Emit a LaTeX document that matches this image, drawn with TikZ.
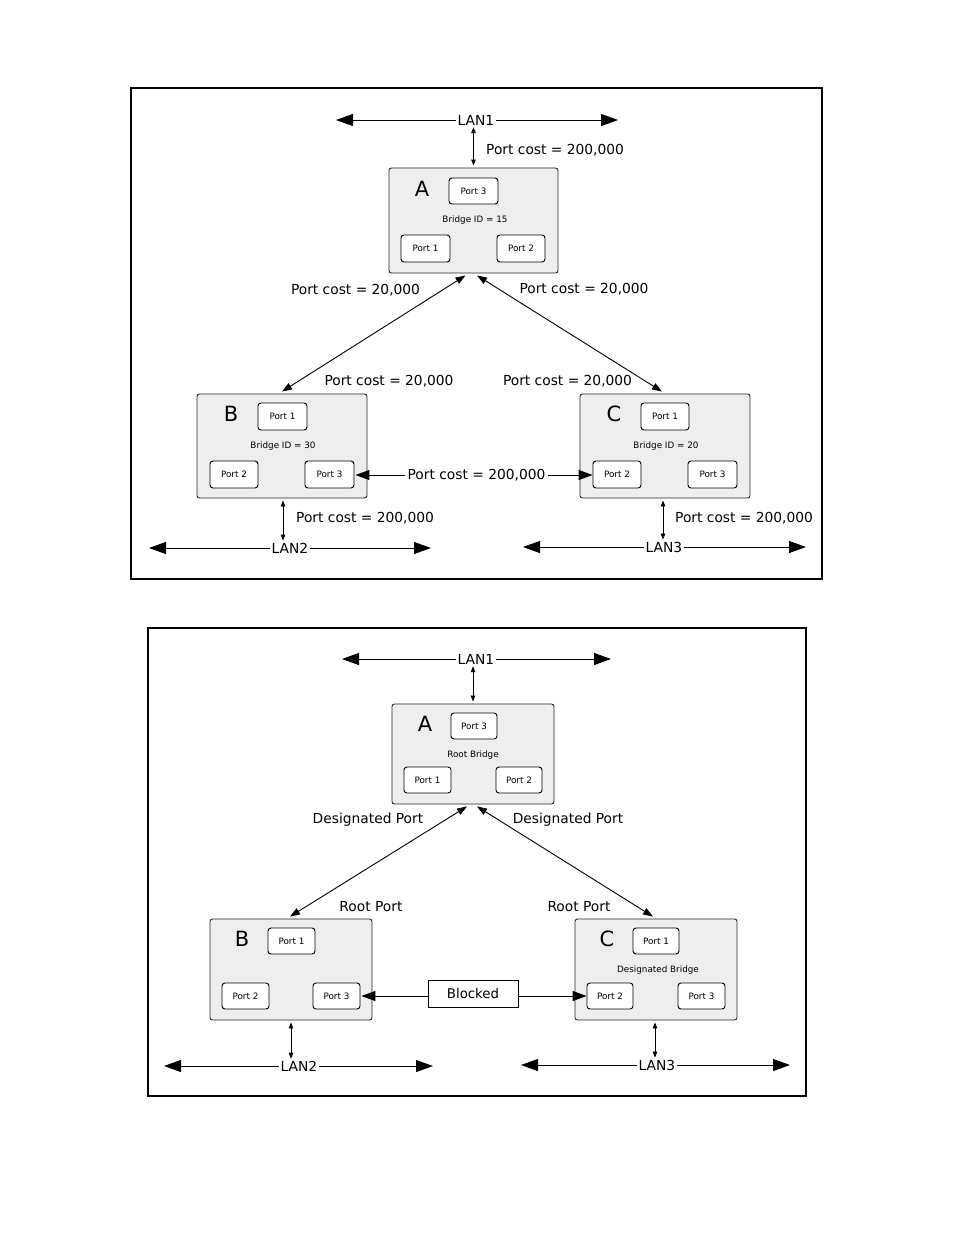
\documentclass[tikz,border=0pt]{standalone}
\usepackage{fontspec}
\setmainfont{DejaVu Sans}
\usetikzlibrary{arrows.meta}
\definecolor{boxgray}{RGB}{238,238,238}
\tikzset{
  frame/.style={draw=black, line width=1.2pt},
  bridge/.style={draw=black!85, line width=0.9pt, fill=boxgray, rounded corners=2.5pt, inner sep=0pt},
  port/.style={draw=black, line width=0.9pt, fill=white, rounded corners=3pt, inner sep=0pt, font=\fontsize{8.8}{10}\selectfont},
  small/.style={font=\fontsize{8.8}{10}\selectfont, inner sep=0pt, yshift=-1.5pt},
  lbl/.style={font=\fontsize{13.8}{16}\selectfont, inner sep=2pt, yshift=-1pt},
  letter/.style={font=\fontsize{21}{24}\selectfont, inner sep=0pt},
  lan/.style={line width=0.9pt, -{Triangle[length=17pt,width=12pt]}},
  hor/.style={line width=1pt, -{Triangle[length=14pt,width=10pt]}},
  diag/.style={line width=0.9pt, {Triangle[length=10pt,width=7pt]}-{Triangle[length=10pt,width=7pt]}},
  vert/.style={line width=0.8pt, {Triangle[length=6pt,width=4.5pt]}-{Triangle[length=6pt,width=4.5pt]}}
}
\begin{document}
\begin{tikzpicture}[x=1pt,y=-1pt]
\useasboundingbox (0,0) rectangle (954,1235);

% ================= TOP DIAGRAM =================
\draw[frame] (131,88) rectangle (822,579);

% LAN1
\node[lbl] (lan1) at (476,119) {LAN1};
\coordinate (lan1l) at (336,119);
\coordinate (lan1r) at (618,119);
\draw[lan] (lan1) -- (lan1 -| lan1l);
\draw[lan] (lan1) -- (lan1 -| lan1r);

% Bridge A
\node[bridge, minimum width=169pt, minimum height=105pt] (A) at (473.5,220.5) {};
\node[letter] (Al) at (422,189) {A};
\node[port, minimum width=49pt, minimum height=26pt] (a3) at (473.5,191) {Port 3};
\node[small] (aid) at (475,219) {Bridge ID = 15};
\node[port, minimum width=49pt, minimum height=27pt] (a1) at (425.5,248.5) {Port 1};
\node[port, minimum width=48pt, minimum height=27pt] (a2) at (521,248.5) {Port 2};

\draw[vert] ([yshift=2pt]A.north) -- (A.north |- lan1.south);
\node[lbl, anchor=west] (pcA) at (484,149) {Port cost = 200,000};

% Bridge B
\node[bridge, minimum width=170pt, minimum height=104pt] (B) at (282,446) {};
\node[letter] (Bl) at (231,414) {B};
\node[port, minimum width=49pt, minimum height=27pt] (b1) at (282.5,416.5) {Port 1};
\node[small] (bid) at (283,445) {Bridge ID = 30};
\node[port, minimum width=48pt, minimum height=27pt] (b2) at (234,474.5) {Port 2};
\node[port, minimum width=49pt, minimum height=27pt] (b3) at (329.5,474.5) {Port 3};

% Bridge C
\node[bridge, minimum width=170pt, minimum height=104pt] (C) at (665,446) {};
\node[letter] (Cl) at (614,414) {C};
\node[port, minimum width=48pt, minimum height=27pt] (c1) at (665,416.5) {Port 1};
\node[small] (cid) at (666,445) {Bridge ID = 20};
\node[port, minimum width=48pt, minimum height=27pt] (c2) at (617,474.5) {Port 2};
\node[port, minimum width=49pt, minimum height=27pt] (c3) at (712.5,474.5) {Port 3};

% diagonal links
\draw[diag] ([xshift=-8pt,yshift=-2pt]A.south) -- ([yshift=2pt]B.north);
\draw[diag] ([xshift=3.5pt,yshift=-2pt]A.south) -- ([xshift=-3pt,yshift=2pt]C.north);
\node[lbl] (pcAB) at (355.5,289) {Port cost = 20,000};
\node[lbl] (pcAC) at (584,288) {Port cost = 20,000};
\node[lbl] (pcBA) at (389,380) {Port cost = 20,000};
\node[lbl] (pcCA) at (567.5,380) {Port cost = 20,000};

% B-C link
\node[lbl] (pcBC) at (476.5,474) {Port cost = 200,000};
\draw[hor] (pcBC) -- ([xshift=1pt]pcBC -| b3.east);
\draw[hor] (pcBC) -- (pcBC -| c2.west);

% LAN2
\node[lbl] (lan2) at (290,547) {LAN2};
\coordinate (lan2l) at (149,547);
\coordinate (lan2r) at (431,547);
\draw[lan] (lan2) -- (lan2 -| lan2l);
\draw[lan] (lan2) -- (lan2 -| lan2r);
\draw[vert] ([xshift=1pt,yshift=-2pt]B.south) -- ([xshift=1pt]B.south |- lan2.north);
\node[lbl, anchor=west] (pcB) at (294,517) {Port cost = 200,000};

% LAN3
\node[lbl] (lan3) at (664,546) {LAN3};
\coordinate (lan3l) at (523,546);
\coordinate (lan3r) at (806,546);
\draw[lan] (lan3) -- (lan3 -| lan3l);
\draw[lan] (lan3) -- (lan3 -| lan3r);
\draw[vert] ([xshift=-2pt,yshift=-2pt]C.south) -- ([xshift=-2pt]C.south |- lan3.north);
\node[lbl, anchor=west] (pcC) at (673,517) {Port cost = 200,000};

% ================= BOTTOM DIAGRAM =================
\draw[frame] (148,628) rectangle (806,1096);

\node[lbl] (blan1) at (476,658) {LAN1};
\coordinate (blan1l) at (342,658);
\coordinate (blan1r) at (611,658);
\draw[lan] (blan1) -- (blan1 -| blan1l);
\draw[lan] (blan1) -- (blan1 -| blan1r);

% Bridge A
\node[bridge, minimum width=162pt, minimum height=100pt] (bA) at (473,754) {};
\node[letter] (bAl) at (425,724) {A};
\node[port, minimum width=46pt, minimum height=26pt] (ba3) at (474,726) {Port 3};
\node[small] (bAr) at (473,754) {Root Bridge};
\node[port, minimum width=47pt, minimum height=26pt] (ba1) at (427.5,780) {Port 1};
\node[port, minimum width=46pt, minimum height=26pt] (ba2) at (519,780) {Port 2};
\draw[vert] ([yshift=2pt]bA.north) -- (bA.north |- blan1.south);

% Bridge B
\node[bridge, minimum width=162pt, minimum height=101pt] (bB) at (291,969.5) {};
\node[letter] (bBl) at (242,939) {B};
\node[port, minimum width=47pt, minimum height=26pt] (bb1) at (291.5,941) {Port 1};
\node[port, minimum width=47pt, minimum height=26pt] (bb2) at (245.5,996) {Port 2};
\node[port, minimum width=47pt, minimum height=26pt] (bb3) at (336.5,996) {Port 3};

% Bridge C
\node[bridge, minimum width=162pt, minimum height=101pt] (bC) at (656,969.5) {};
\node[letter] (bCl) at (607,939) {C};
\node[port, minimum width=46pt, minimum height=26pt] (bc1) at (656,941) {Port 1};
\node[small] (bCd) at (658,969) {Designated Bridge};
\node[port, minimum width=46pt, minimum height=26pt] (bc2) at (610,996) {Port 2};
\node[port, minimum width=47pt, minimum height=26pt] (bc3) at (701.5,996) {Port 3};

% diagonal links
\draw[diag] ([xshift=-6pt,yshift=-2pt]bA.south) -- ([xshift=-1pt,yshift=2pt]bB.north);
\draw[diag] ([xshift=4pt,yshift=-2pt]bA.south) -- ([xshift=-3pt,yshift=2pt]bC.north);
\node[lbl] (dpL) at (368,819) {Designated Port};
\node[lbl] (dpR) at (568,819) {Designated Port};
\node[lbl] (rpB) at (371,906) {Root Port};
\node[lbl] (rpC) at (579,906) {Root Port};

% Blocked
\node[draw=black, line width=0.9pt, fill=white, minimum width=90pt, minimum height=27pt, inner sep=0pt, font=\fontsize{13.3}{15}\selectfont] (blk) at (473,993.5) {Blocked};
\draw[hor] (blk.west |- bb3.east) -- ([xshift=1pt]bb3.east);
\draw[hor] (blk.east |- bc2.west) -- (bc2.west);

% LAN2
\node[lbl] (blan2) at (299,1065) {LAN2};
\coordinate (blan2l) at (164,1065);
\coordinate (blan2r) at (433,1065);
\draw[lan] (blan2) -- (blan2 -| blan2l);
\draw[lan] (blan2) -- (blan2 -| blan2r);
\draw[vert] ([yshift=-2pt]bB.south) -- (bB.south |- blan2.north);

% LAN3
\node[lbl] (blan3) at (657,1064) {LAN3};
\coordinate (blan3l) at (521,1064);
\coordinate (blan3r) at (790,1064);
\draw[lan] (blan3) -- (blan3 -| blan3l);
\draw[lan] (blan3) -- (blan3 -| blan3r);
\draw[vert] ([xshift=-1pt,yshift=-2pt]bC.south) -- ([xshift=-1pt]bC.south |- blan3.north);

\end{tikzpicture}
\end{document}
